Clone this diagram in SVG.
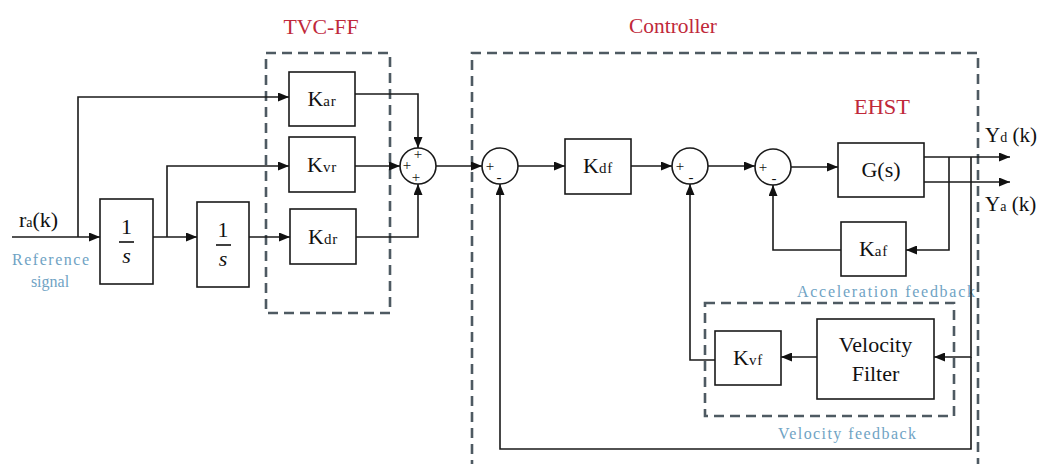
<svg xmlns="http://www.w3.org/2000/svg" width="1044" height="464" viewBox="0 0 1044 464">
<style>
  .bg { fill: #ffffff; }
  .blk { fill: #ffffff; stroke: #1a1a1a; stroke-width: 1.6; }
  .sum { fill: #ffffff; stroke: #1a1a1a; stroke-width: 1.6; }
  .wire { fill: none; stroke: #1a1a1a; stroke-width: 1.6; }
  .grp { fill: none; stroke: #4e5a62; stroke-width: 2.6; stroke-dasharray: 10 6; }
  .t { fill: #111111; }
  .lbl { font-size: 22px; text-anchor: middle; }
  .sub { font-size: 15px; letter-spacing: 0.8px; }
  .sign { font-size: 15px; fill: #111111; text-anchor: middle; }
  .title { font-size: 21px; fill: #c0283a; text-anchor: middle; }
  .note { font-size: 16px; fill: #6fa3c4; }
</style>
<defs>
  <marker id="arr" markerUnits="userSpaceOnUse" markerWidth="11" markerHeight="9" refX="11" refY="4.5" orient="auto">
    <path d="M0,0 L11,4.5 L0,9 z" fill="#111111"/>
  </marker>
</defs>
<rect class="bg" x="0" y="0" width="1044" height="464"/>
<g font-family="'Liberation Serif', 'DejaVu Serif', 'Times New Roman', serif">

<!-- group frames -->
<g id="tvcff-frame">
  <rect class="grp" x="266" y="53" width="124" height="260"/>
  <text class="title" x="321" y="34" textLength="75" lengthAdjust="spacingAndGlyphs">TVC-FF</text>
</g>
<g id="controller-frame">
  <path class="grp" d="M472,470 V53 H978 V470"/>
  <text class="title" x="673" y="33" textLength="88" lengthAdjust="spacingAndGlyphs">Controller</text>
</g>
<g id="velocity-frame">
  <rect class="grp" x="705" y="303" width="249" height="113"/>
  <text class="note" x="847" y="439" text-anchor="middle" textLength="138" lengthAdjust="spacing">Velocity feedback</text>
</g>
<g id="ehst-label">
  <text class="title" x="882" y="114" textLength="56" lengthAdjust="spacingAndGlyphs">EHST</text>
</g>
<g id="accel-label">
  <text class="note" x="797" y="297" textLength="178" lengthAdjust="spacing">Acceleration feedback</text>
</g>

<!-- connectors -->
<g id="connectors">
  <path class="wire" d="M12,237 H100" marker-end="url(#arr)"/>
  <path class="wire" d="M78,237 V97 H289" marker-end="url(#arr)"/>
  <path class="wire" d="M153,237 H197" marker-end="url(#arr)"/>
  <path class="wire" d="M167,237 V166 H289" marker-end="url(#arr)"/>
  <path class="wire" d="M249,237 H290" marker-end="url(#arr)"/>
  <path class="wire" d="M355,94 H418 V148" marker-end="url(#arr)"/>
  <path class="wire" d="M355,166 H400" marker-end="url(#arr)"/>
  <path class="wire" d="M356,237 H418 V184" marker-end="url(#arr)"/>
  <path class="wire" d="M436,166 H482" marker-end="url(#arr)"/>
  <path class="wire" d="M518,166 H565" marker-end="url(#arr)"/>
  <path class="wire" d="M631,166 H672" marker-end="url(#arr)"/>
  <path class="wire" d="M708,166 H755" marker-end="url(#arr)"/>
  <path class="wire" d="M791,167 H838" marker-end="url(#arr)"/>
  <path class="wire" d="M924,157 H1010" marker-end="url(#arr)"/>
  <path class="wire" d="M924,182 H1010" marker-end="url(#arr)"/>
  <path class="wire" d="M949,157 V250 H906" marker-end="url(#arr)"/>
  <path class="wire" d="M841,250 H773 V185" marker-end="url(#arr)"/>
  <path class="wire" d="M971,157 V357 H934" marker-end="url(#arr)"/>
  <path class="wire" d="M817,357 H781" marker-end="url(#arr)"/>
  <path class="wire" d="M715,360 H690 V184" marker-end="url(#arr)"/>
  <path class="wire" d="M971,357 V449 H500 V184" marker-end="url(#arr)"/>
</g>

<!-- signal labels -->
<g id="input-label">
  <text class="t" x="19" y="227" font-size="22">r<tspan font-size="14">a</tspan>(k)</text>
  <text class="note" x="12" y="265" textLength="77" lengthAdjust="spacing">Reference</text>
  <text class="note" x="50" y="287" text-anchor="middle">signal</text>
</g>
<g id="output-labels">
  <text class="t" x="985" y="142" font-size="21">Y<tspan font-size="14">d</tspan> (k)</text>
  <text class="t" x="985" y="211" font-size="21">Y<tspan font-size="14">a</tspan> (k)</text>
</g>

<!-- nodes -->
<g id="int1">
  <rect class="blk" x="100" y="199" width="53" height="85"/>
  <text class="t lbl" x="126.5" y="234">1</text>
  <line x1="119" y1="242" x2="134" y2="242" stroke="#111" stroke-width="1.6"/>
  <text class="t lbl" x="126.5" y="263" font-style="italic" font-size="23">s</text>
</g>
<g id="int2">
  <rect class="blk" x="197" y="202" width="52" height="85"/>
  <text class="t lbl" x="223" y="237">1</text>
  <line x1="216" y1="245" x2="231" y2="245" stroke="#111" stroke-width="1.6"/>
  <text class="t lbl" x="223" y="266" font-style="italic" font-size="23">s</text>
</g>
<g id="Kar">
  <rect class="blk" x="289" y="72" width="66" height="54"/>
  <text class="t lbl" x="322" y="106">K<tspan class="sub">ar</tspan></text>
</g>
<g id="Kvr">
  <rect class="blk" x="289" y="137" width="66" height="55"/>
  <text class="t lbl" x="322" y="172">K<tspan class="sub">vr</tspan></text>
</g>
<g id="Kdr">
  <rect class="blk" x="290" y="209" width="66" height="55"/>
  <text class="t lbl" x="323" y="244">K<tspan class="sub">dr</tspan></text>
</g>
<g id="sumFF">
  <circle class="sum" cx="418" cy="166" r="18"/>
  <text class="sign" x="418" y="159">+</text>
  <text class="sign" x="407" y="170">+</text>
  <text class="sign" x="416" y="182">+</text>
</g>
<g id="sum1">
  <circle class="sum" cx="500" cy="166" r="18"/>
  <text class="sign" x="490" y="171">+</text>
  <text class="sign" x="499" y="182">-</text>
</g>
<g id="Kdf">
  <rect class="blk" x="565" y="139" width="66" height="55"/>
  <text class="t lbl" x="598" y="173">K<tspan class="sub">df</tspan></text>
</g>
<g id="sum2">
  <circle class="sum" cx="690" cy="166" r="18"/>
  <text class="sign" x="680" y="171">+</text>
  <text class="sign" x="691" y="182">-</text>
</g>
<g id="sum3">
  <circle class="sum" cx="773" cy="167" r="18"/>
  <text class="sign" x="763" y="172">+</text>
  <text class="sign" x="774" y="183">-</text>
</g>
<g id="Gs">
  <rect class="blk" x="838" y="143" width="86" height="54"/>
  <text class="t lbl" x="881" y="177" font-size="23">G(s)</text>
</g>
<g id="Kaf">
  <rect class="blk" x="841" y="222" width="65" height="54"/>
  <text class="t lbl" x="873.5" y="256">K<tspan class="sub">af</tspan></text>
</g>
<g id="VelFilter">
  <rect class="blk" x="817" y="319" width="117" height="80"/>
  <text class="t lbl" x="875.5" y="352" font-size="21">Velocity</text>
  <text class="t lbl" x="875.5" y="381" font-size="21">Filter</text>
</g>
<g id="Kvf">
  <rect class="blk" x="715" y="331" width="66" height="54"/>
  <text class="t lbl" x="748" y="365">K<tspan class="sub">vf</tspan></text>
</g>
</g>
</svg>
